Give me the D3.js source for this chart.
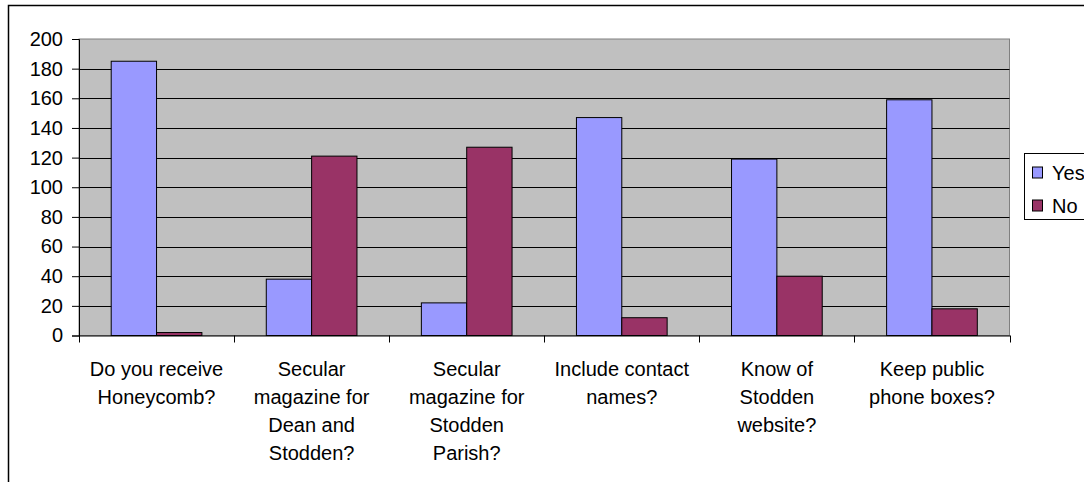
<!DOCTYPE html>
<html>
<head>
<meta charset="utf-8">
<script src="https://cdn.jsdelivr.net/npm/d3@7"></script>
<style>
  html, body { margin: 0; padding: 0; background: #fff; }
  svg { display: block; font-family: "Liberation Sans", Arial, sans-serif; }
</style>
</head>
<body>
<svg id="chart" width="1084" height="482"></svg>
<script>
const categories = [
  ["Do you receive", "Honeycomb?"],
  ["Secular", "magazine for", "Dean and", "Stodden?"],
  ["Secular", "magazine for", "Stodden", "Parish?"],
  ["Include contact", "names?"],
  ["Know of", "Stodden", "website?"],
  ["Keep public", "phone boxes?"]
];
const seriesNames = ["Yes", "No"];
const yesValues = [185, 38, 22, 147, 119, 159];
const noValues = [2, 121, 127, 12, 40, 18];
const yTicks = [0, 20, 40, 60, 80, 100, 120, 140, 160, 180, 200];
const colors = ["#9999FF", "#993366"];

const FS = 20;
const svg = d3.select("#chart");
const plot = { left: 79, right: 1009.5, top: 39, bottom: 335.5 };

// outer chart border
svg.append("rect")
  .attr("x", 8.5).attr("y", 5.5)
  .attr("width", 1100).attr("height", 500)
  .attr("fill", "#fff").attr("stroke", "#000").attr("stroke-width", 1.5);

const idx = d3.range(categories.length);
const x0 = d3.scaleBand().domain(idx).range([plot.left, plot.right]).paddingInner(0).paddingOuter(0);
const x1 = d3.scaleBand().domain(seriesNames).range([0, x0.bandwidth()]).paddingInner(0).paddingOuter(0.71);
const y = d3.scaleLinear().domain([0, 200]).range([plot.bottom, plot.top]);

// plot background
svg.append("rect")
  .attr("x", plot.left).attr("y", plot.top)
  .attr("width", plot.right - plot.left).attr("height", plot.bottom - plot.top)
  .attr("fill", "#C0C0C0").attr("stroke", "#808080").attr("stroke-width", 1);

// gridlines
svg.append("g").selectAll("line").data(yTicks.filter(d => d > 0 && d < 200)).join("line")
  .attr("x1", plot.left).attr("x2", plot.right)
  .attr("y1", d => Math.round(y(d)) + 0.5).attr("y2", d => Math.round(y(d)) + 0.5)
  .attr("stroke", "#000").attr("stroke-width", 1);

// bars
const data = idx.map(i => ({ i, vals: [yesValues[i], noValues[i]] }));
const groups = svg.append("g").selectAll("g").data(data).join("g")
  .attr("transform", d => `translate(${x0(d.i)},0)`);
groups.selectAll("rect").data(d => d.vals.map((v, k) => ({ v, k }))).join("rect")
  .attr("x", d => x1(seriesNames[d.k]))
  .attr("y", d => y(d.v))
  .attr("width", x1.bandwidth())
  .attr("height", d => plot.bottom - y(d.v))
  .attr("fill", d => colors[d.k])
  .attr("stroke", "#000").attr("stroke-width", 1);

// y axis
const yAxis = d3.axisLeft(y).tickValues(yTicks).tickSize(7).tickPadding(9);
const yg = svg.append("g").attr("transform", `translate(${plot.left},0)`).call(yAxis);
yg.select(".domain").attr("stroke", "#000");
yg.selectAll(".tick line").attr("stroke", "#000");
yg.selectAll(".tick text").attr("font-size", FS).attr("fill", "#000")
  .attr("font-family", "'Liberation Sans', Arial, sans-serif");

// x axis
const xAxis = d3.axisBottom(x0).tickValues([]).tickSizeOuter(0);
const xg = svg.append("g").attr("transform", `translate(0,${plot.bottom})`).call(xAxis);
xg.select(".domain").attr("stroke", "#000");
xg.append("g").selectAll("line").data(d3.range(categories.length + 1)).join("line")
  .attr("x1", d => Math.round(plot.left + d * x0.step()) + 0.5)
  .attr("x2", d => Math.round(plot.left + d * x0.step()) + 0.5)
  .attr("y1", 0).attr("y2", 7).attr("stroke", "#000");

// category labels
const lab = svg.append("g").attr("font-size", FS).attr("fill", "#000").attr("text-anchor", "middle");
categories.forEach((lines, i) => {
  const cx = x0(i) + x0.bandwidth() / 2;
  const t = lab.append("text").attr("x", cx).attr("y", 376);
  lines.forEach((ln, j) => {
    t.append("tspan").attr("x", cx).attr("dy", j === 0 ? 0 : 28).text(ln);
  });
});

// legend
const leg = svg.append("g");
leg.append("rect").attr("x", 1024.5).attr("y", 153.5).attr("width", 80).attr("height", 66)
  .attr("fill", "#fff").attr("stroke", "#000").attr("stroke-width", 1);
seriesNames.forEach((s, k) => {
  const cy = 172.5 + k * 33;
  leg.append("rect").attr("x", 1032.5).attr("y", cy - 5.5).attr("width", 10).attr("height", 11)
    .attr("fill", colors[k]).attr("stroke", "#000").attr("stroke-width", 1);
  leg.append("text").attr("x", 1052).attr("y", cy + 7).attr("font-size", FS).attr("fill", "#000").text(s);
});
</script>
</body>
</html>
